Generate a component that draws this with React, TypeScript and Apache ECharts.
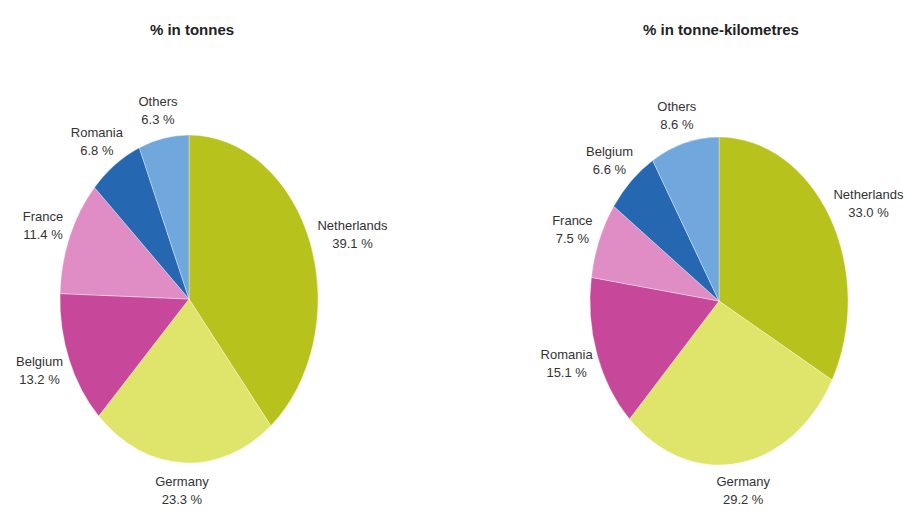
import React, { useEffect, useRef } from "react";
import * as echarts from "echarts";

const tonnesTitle = "% in tonnes";
const tonnesCountries = ["Netherlands", "Germany", "Belgium", "France", "Romania", "Others"];
const tonnesValues = [39.1, 23.3, 13.2, 11.4, 6.8, 6.3];

const tkmTitle = "% in tonne-kilometres";
const tkmCountries = ["Netherlands", "Germany", "Romania", "France", "Belgium", "Others"];
const tkmValues = [33.0, 29.2, 15.1, 7.5, 6.6, 8.6];

// colours by slice position (clockwise from 12 o'clock)
const sliceColors = ["#b8c21c", "#dfe46b", "#c7489a", "#e08dc5", "#2667b1", "#70a8dd"];

const FONT = "'Liberation Sans', Arial, sans-serif";

function makeSeries(names: string[], values: number[], cx: number, cy: number, rx: number, ry: number) {
  const total = values.reduce((a, b) => a + b, 0);
  const starts: number[] = [];
  let acc = 0;
  for (const v of values) {
    starts.push(acc);
    acc += v;
  }
  return {
    type: "custom",
    coordinateSystem: "none",
    silent: true,
    data: values,
    renderItem: (params: any, api: any) => {
      const i = params.dataIndex;
      const v = api.value(0);
      const a0 = (starts[i] / total) * Math.PI * 2;
      const a1 = ((starts[i] + v) / total) * Math.PI * 2;
      const mid = (a0 + a1) / 2;
      const s = Math.sin(mid);
      const c = Math.cos(mid);
      const ex = cx + rx * s;
      const ey = cy - ry * c;
      const d = 10;
      const text = `${names[i]}\n${v.toFixed(1)} %`;
      const w = Math.max(names[i].length, 6) * 6.3;
      const h = 36;
      const lx = ex + d * s + (s * w) / 2;
      const ly = ey - d * c - (c * h) / 2;
      return {
        type: "group",
        children: [
          {
            type: "sector",
            x: cx,
            y: cy,
            scaleY: ry / rx,
            shape: {
              cx: 0,
              cy: 0,
              r: rx,
              r0: 0,
              startAngle: -Math.PI / 2 + a0,
              endAngle: -Math.PI / 2 + a1,
              clockwise: true,
            },
            style: { fill: sliceColors[i], stroke: "rgba(255,255,255,0.5)", lineWidth: 0.6, strokeNoScale: true },
          },
          {
            type: "text",
            x: lx,
            y: ly,
            style: {
              text,
              fill: "#333",
              fontSize: 13,
              fontFamily: FONT,
              align: "center",
              verticalAlign: "middle",
              lineHeight: 18,
            },
          },
        ],
      };
    },
  };
}

export default function App() {
  const ref = useRef<HTMLDivElement>(null);
  useEffect(() => {
    document.body.style.margin = "0";
    const chart = echarts.init(ref.current!, null, { renderer: "svg" });
    chart.setOption({
      animation: false,
      backgroundColor: "#ffffff",
      title: [
        {
          text: tonnesTitle,
          left: 187,
          top: 17,
          textAlign: "center",
          textStyle: { fontSize: 15, fontWeight: "bold", color: "#222", fontFamily: FONT },
        },
        {
          text: tkmTitle,
          left: 716,
          top: 17,
          textAlign: "center",
          textStyle: { fontSize: 15, fontWeight: "bold", color: "#222", fontFamily: FONT },
        },
      ],
      series: [
        makeSeries(tonnesCountries, tonnesValues, 189, 299, 129, 164),
        makeSeries(tkmCountries, tkmValues, 719, 301, 129, 164),
      ],
    });
    return () => chart.dispose();
  }, []);
  return <div ref={ref} style={{ width: 908, height: 511 }} />;
}
